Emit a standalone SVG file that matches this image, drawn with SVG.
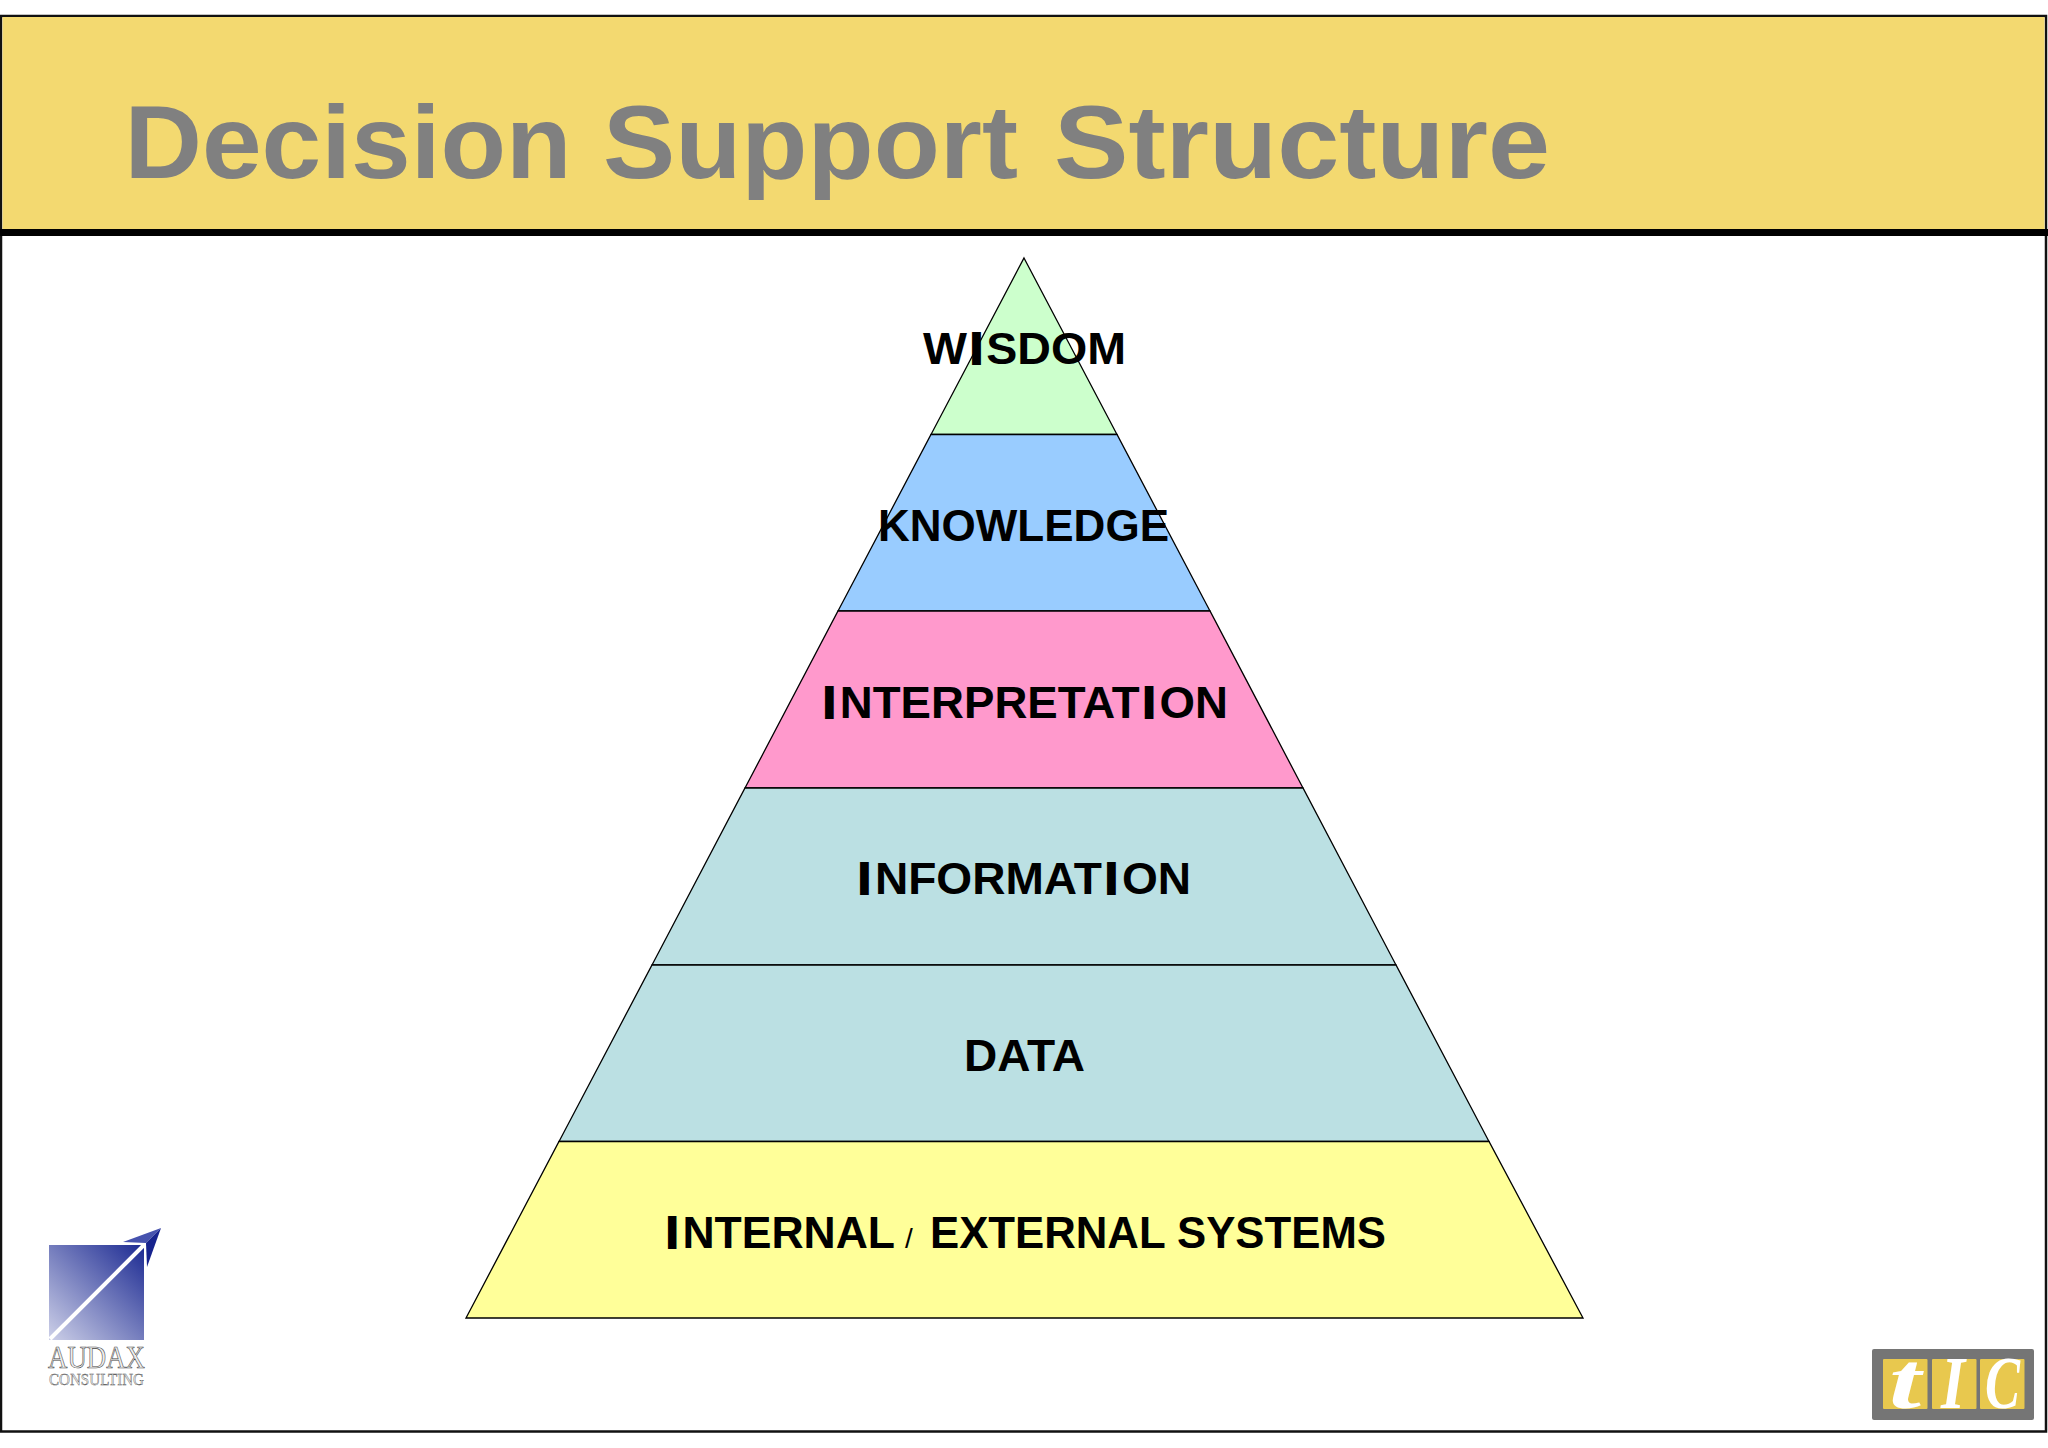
<svg xmlns="http://www.w3.org/2000/svg" width="2048" height="1448" viewBox="0 0 2048 1448">
<style>
.tier{stroke:#000;stroke-width:1.3;stroke-linejoin:miter}
.lab{font-family:"Liberation Sans",Arial,sans-serif;font-weight:700;font-size:44px;fill:#000}
.lab .i{stroke:#000;stroke-width:2}
.tic{font-family:"Liberation Serif",serif;font-weight:700;font-style:italic;fill:#fff}
.aud{font-family:"Liberation Serif",serif;fill:#eee;stroke:#444;stroke-width:.6}
</style>
<defs>
<linearGradient id="sq" x1="0" y1="1" x2="1" y2="0"><stop offset="0" stop-color="#cdd0e8"/><stop offset="1" stop-color="#1c2a92"/></linearGradient>
</defs>
<rect width="2048" height="1448" fill="#fff"/>
<g id="frame">
<rect x="1" y="16" width="2045" height="1415.500" fill="#fff" stroke="#111" stroke-width="2.500"/>
</g>
<g id="header">
<rect x="2.500" y="17" width="2042" height="212" fill="#F3D970"/>
<rect x="0" y="229" width="2048" height="7" fill="#000"/>
<text y="178" font-family="'Liberation Sans',sans-serif" font-weight="700" font-size="104" fill="#808080" lengthAdjust="spacingAndGlyphs"><tspan x="124.500" textLength="447" lengthAdjust="spacingAndGlyphs">Decision</tspan> <tspan x="603" textLength="415" lengthAdjust="spacingAndGlyphs">Support</tspan> <tspan x="1054" textLength="496" lengthAdjust="spacingAndGlyphs">Structure</tspan></text>
</g>
<g id="tier-wisdom">
<polygon class="tier" points="1024,258 1117,434.500 931,434.500" fill="#CCFFCC"/>
<text class="lab" x="923" y="363.500" textLength="203" lengthAdjust="spacingAndGlyphs">W<tspan class="i" dx="3">I</tspan><tspan dx="3">SDOM</tspan></text>
</g>
<g id="tier-knowledge">
<polygon class="tier" points="931,434.500 1117,434.500 1210,611 838,611" fill="#99CCFF"/>
<text class="lab" x="878" y="540.500" textLength="291" lengthAdjust="spacingAndGlyphs">KNOWLEDGE</text>
</g>
<g id="tier-interpretation">
<polygon class="tier" points="838,611 1210,611 1303,788 745,788" fill="#FF99CC"/>
<text class="lab" x="823" y="717.500" textLength="405" lengthAdjust="spacingAndGlyphs"><tspan class="i">I</tspan><tspan dx="4">NTERPRETAT</tspan><tspan class="i" dx="3">I</tspan><tspan dx="4">ON</tspan></text>
</g>
<g id="tier-information">
<polygon class="tier" points="745,788 1303,788 1396,965 652,965" fill="#BBE0E3"/>
<text class="lab" x="858" y="894" textLength="333" lengthAdjust="spacingAndGlyphs"><tspan class="i">I</tspan><tspan dx="4">NFORMAT</tspan><tspan class="i" dx="3">I</tspan><tspan dx="4">ON</tspan></text>
</g>
<g id="tier-data">
<polygon class="tier" points="652,965 1396,965 1489,1141.500 559,1141.500" fill="#BBE0E3"/>
<text class="lab" x="964" y="1071" textLength="121" lengthAdjust="spacingAndGlyphs">DATA</text>
</g>
<g id="tier-systems">
<polygon class="tier" points="559,1141.500 1489,1141.500 1583,1318 466,1318" fill="#FFFF99"/>
<text class="lab" x="666" y="1248" textLength="229" lengthAdjust="spacingAndGlyphs"><tspan class="i">I</tspan><tspan dx="4">NTERNAL</tspan></text>
<text class="lab" x="905" y="1248" style="font-size:28px;font-weight:400">/</text>
<text class="lab" x="930" y="1248" textLength="456" lengthAdjust="spacingAndGlyphs">EXTERNAL SYSTEMS</text>
</g>
<g id="logo-audax">
<rect x="49" y="1245" width="95" height="95" fill="url(#sq)"/>
<line x1="50" y1="1339" x2="146" y2="1243" stroke="#fff" stroke-width="4"/>
<polygon points="161,1228 123,1242 146,1243" fill="#4652ae"/>
<polygon points="161,1228 147,1267 146,1243" fill="#17238e"/>
<text class="aud" x="48" y="1368" font-size="31" textLength="97" lengthAdjust="spacingAndGlyphs">AUDAX</text>
<text class="aud" x="49" y="1385" font-size="17" textLength="95" lengthAdjust="spacingAndGlyphs" style="stroke-width:.4">CONSULTING</text>
</g>
<g id="logo-tic">
<rect x="1872" y="1349" width="162" height="71" rx="2" fill="#757575"/>
<rect x="1883" y="1359" width="44.500" height="50" rx="1" fill="#E8C84E"/>
<rect x="1932" y="1359" width="44.500" height="50" rx="1" fill="#E8C84E"/>
<rect x="1980" y="1359" width="44.500" height="50" rx="1" fill="#E8C84E"/>
<text class="tic" x="1889" y="1408" font-size="80" textLength="32" lengthAdjust="spacingAndGlyphs">t</text>
<text class="tic" x="1941" y="1408" font-size="74" textLength="24" lengthAdjust="spacingAndGlyphs">I</text>
<text class="tic" x="1985" y="1408" font-size="74" textLength="35" lengthAdjust="spacingAndGlyphs">C</text>
</g>
</svg>
